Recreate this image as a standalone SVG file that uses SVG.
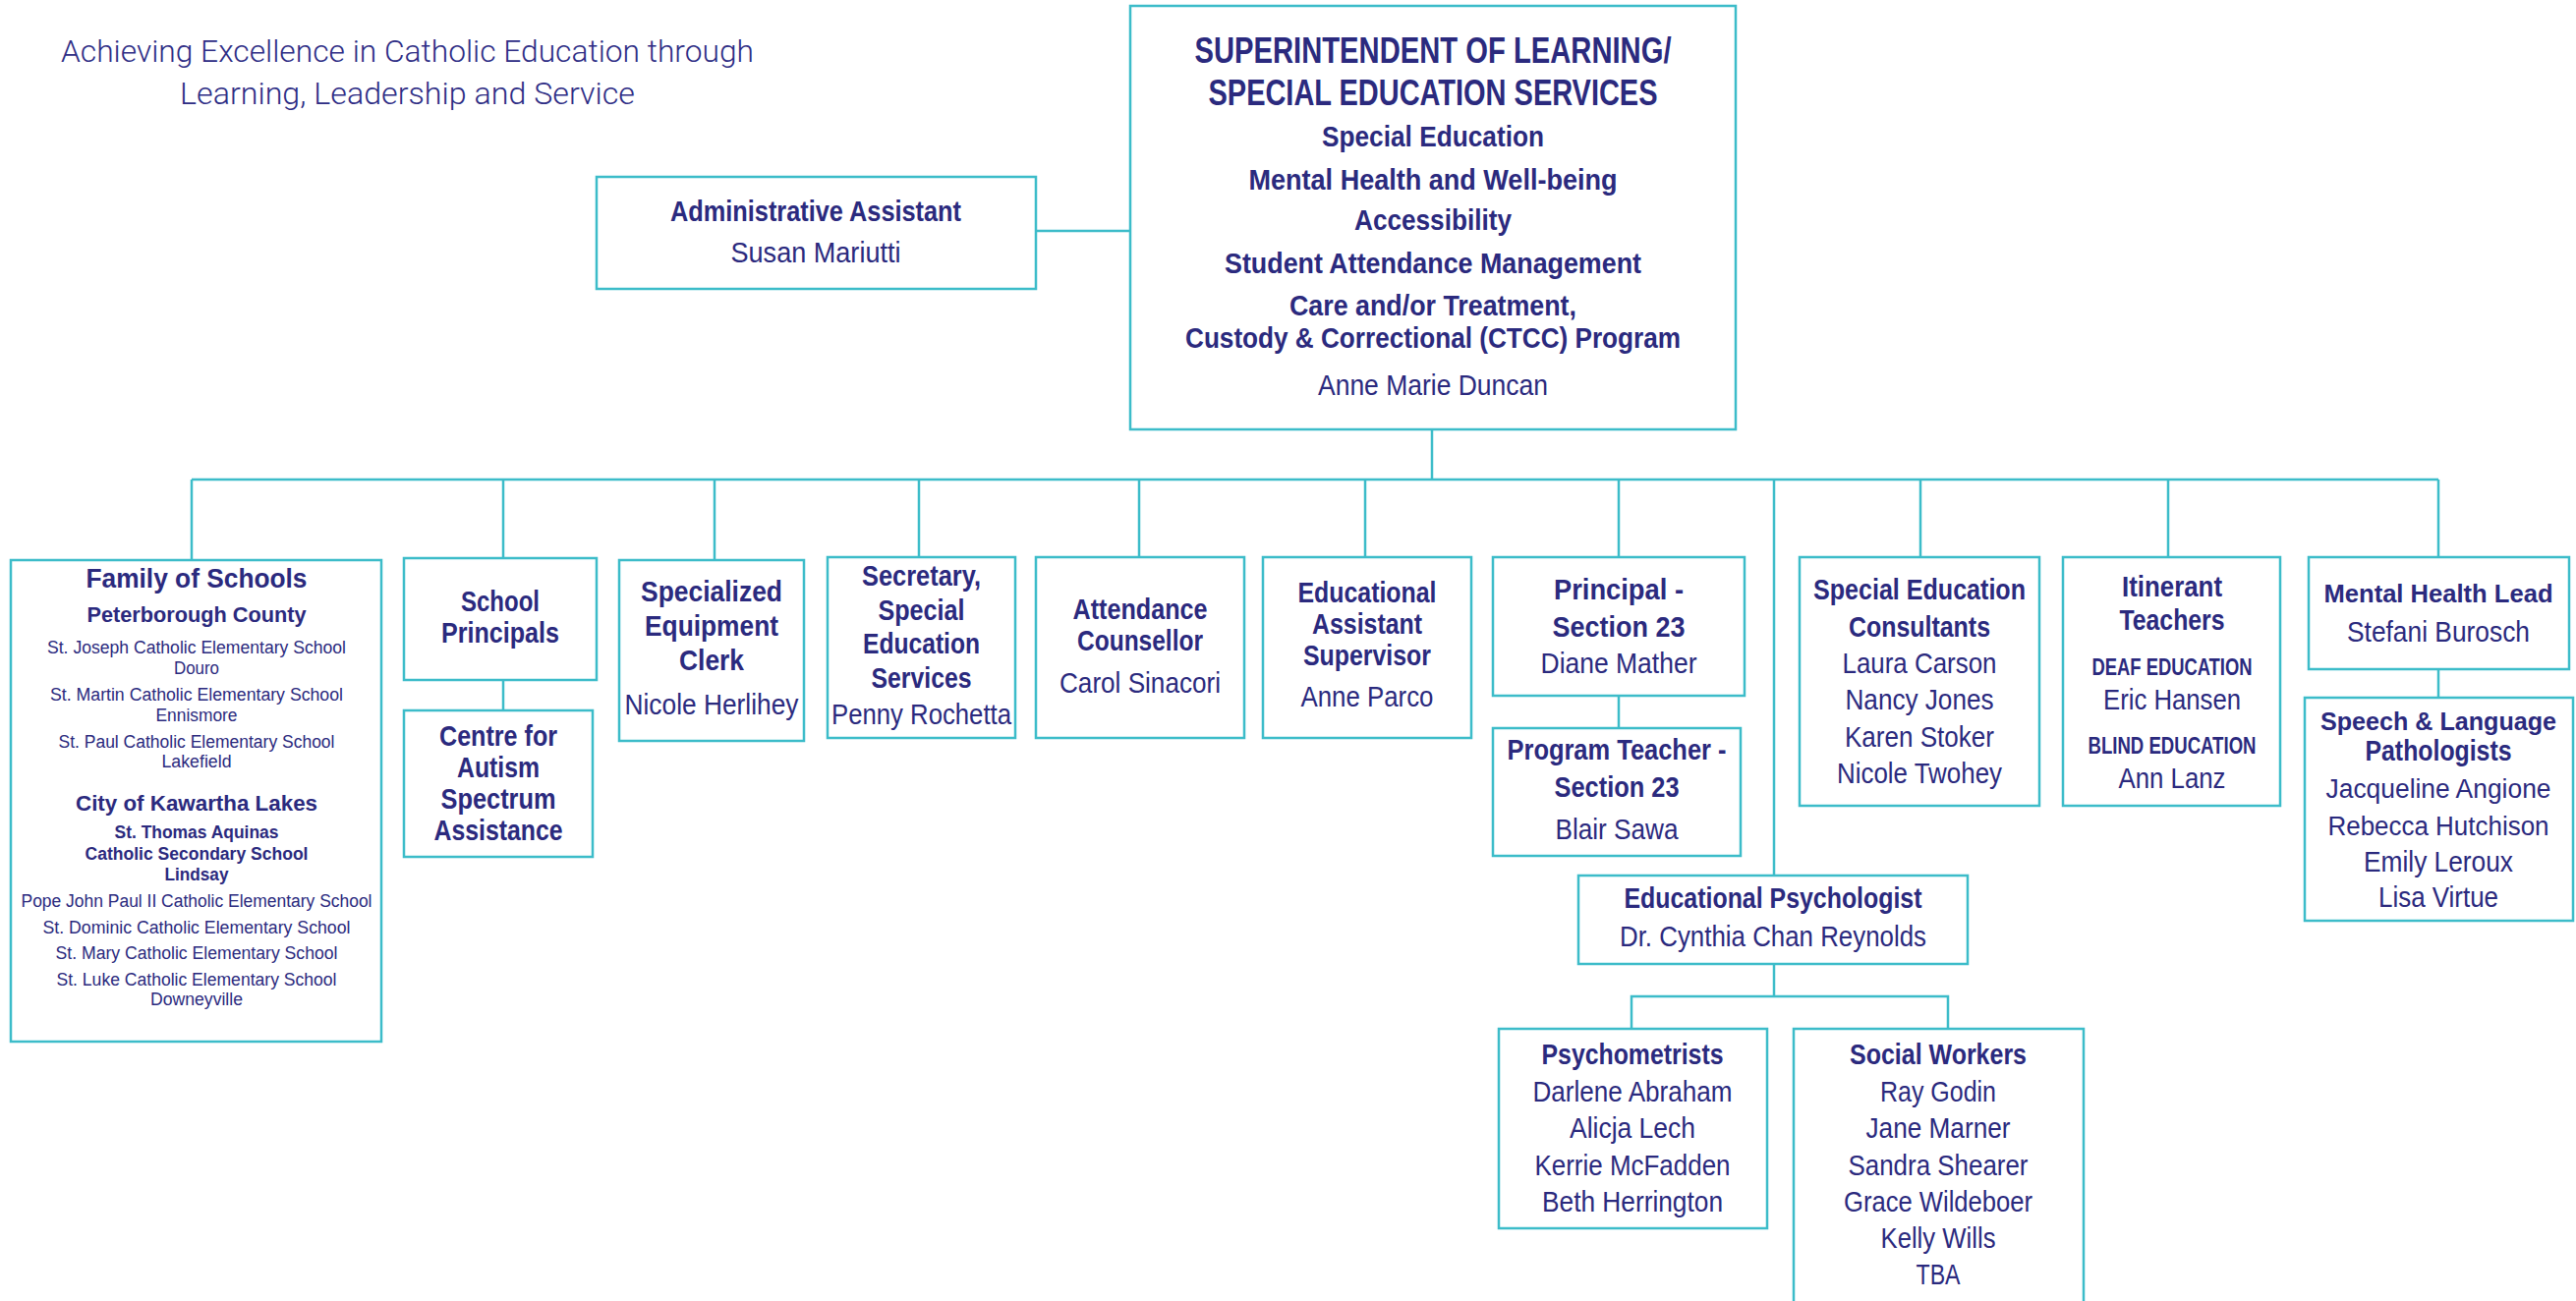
<svg xmlns="http://www.w3.org/2000/svg" width="2621" height="1324" viewBox="0 0 2621 1324">
<style>
.box{fill:#fff;stroke:#3cbcc9;stroke-width:2.5}
.ln{stroke:#3cbcc9;stroke-width:2.5;fill:none}
text{font-family:"Liberation Sans",Arial,sans-serif;fill:#2b2a7e;text-anchor:middle}
.b{font-weight:bold;font-size:30px}
.r{font-size:30px}
.h{font-weight:bold;font-size:36px}
.s{font-weight:bold;font-size:29px}
.sr{font-size:29px}
.fs{font-size:18px}
.fb{font-weight:bold;font-size:18px}
.fh{font-weight:bold;font-size:22px}
.cap{font-weight:bold;font-size:23px}
.title{font-family:Roboto,"Liberation Sans",Arial,sans-serif;font-weight:300;font-size:31px;fill:#2e2d85}
.rb{font-weight:bold;font-size:26px}
.rr{font-size:27px}
</style>
<rect width="2621" height="1324" fill="#fff"/>
<g id="tagline">
<text class="title" x="414.5" y="63" textLength="705" lengthAdjust="spacingAndGlyphs">Achieving Excellence in Catholic Education through</text>
<text class="title" x="414.5" y="106" textLength="463" lengthAdjust="spacingAndGlyphs">Learning, Leadership and Service</text>
</g>
<g id="connectors">
<line class="ln" x1="1054" y1="235" x2="1150" y2="235"/>
<line class="ln" x1="1457" y1="437" x2="1457" y2="488"/>
<line class="ln" x1="195" y1="488" x2="2481" y2="488"/>
<line class="ln" x1="195" y1="488" x2="195" y2="570"/>
<line class="ln" x1="512" y1="488" x2="512" y2="568"/>
<line class="ln" x1="727" y1="488" x2="727" y2="570"/>
<line class="ln" x1="935" y1="488" x2="935" y2="567"/>
<line class="ln" x1="1159" y1="488" x2="1159" y2="567"/>
<line class="ln" x1="1389" y1="488" x2="1389" y2="567"/>
<line class="ln" x1="1647" y1="488" x2="1647" y2="567"/>
<line class="ln" x1="1805" y1="488" x2="1805" y2="891"/>
<line class="ln" x1="1954" y1="488" x2="1954" y2="567"/>
<line class="ln" x1="2206" y1="488" x2="2206" y2="567"/>
<line class="ln" x1="2481" y1="488" x2="2481" y2="567"/>
<line class="ln" x1="512" y1="692" x2="512" y2="723"/>
<line class="ln" x1="1647" y1="708" x2="1647" y2="741"/>
<line class="ln" x1="2481" y1="681" x2="2481" y2="710"/>
<line class="ln" x1="1805" y1="981" x2="1805" y2="1014"/>
<polyline class="ln" points="1660,1047 1660,1014 1982,1014 1982,1047"/>
</g>
<g id="superintendent">
<rect class="box" x="1150" y="6" width="616" height="431"/>
<text class="h" x="1458" y="64" textLength="485" lengthAdjust="spacingAndGlyphs">SUPERINTENDENT OF LEARNING/</text>
<text class="h" x="1458" y="107" textLength="457" lengthAdjust="spacingAndGlyphs">SPECIAL EDUCATION SERVICES</text>
<text class="s" x="1458" y="149" textLength="226" lengthAdjust="spacingAndGlyphs">Special Education</text>
<text class="s" x="1458" y="193" textLength="375" lengthAdjust="spacingAndGlyphs">Mental Health and Well-being</text>
<text class="s" x="1458" y="234" textLength="160" lengthAdjust="spacingAndGlyphs">Accessibility</text>
<text class="s" x="1458" y="278" textLength="424" lengthAdjust="spacingAndGlyphs">Student Attendance Management</text>
<text class="s" x="1458" y="321" textLength="292" lengthAdjust="spacingAndGlyphs">Care and/or Treatment,</text>
<text class="s" x="1458" y="354" textLength="504" lengthAdjust="spacingAndGlyphs">Custody &amp; Correctional (CTCC) Program</text>
<text class="sr" x="1458" y="402" textLength="234" lengthAdjust="spacingAndGlyphs">Anne Marie Duncan</text>
</g>
<g id="admin-assistant">
<rect class="box" x="607" y="180" width="447" height="114"/>
<text class="b" x="830" y="225" textLength="296" lengthAdjust="spacingAndGlyphs">Administrative Assistant</text>
<text class="r" x="830" y="267" textLength="173" lengthAdjust="spacingAndGlyphs">Susan Mariutti</text>
</g>
<g id="family-of-schools">
<rect class="box" x="11" y="570" width="377" height="490"/>
<text x="200" y="598" style="font-weight:bold;font-size:27px" textLength="225" lengthAdjust="spacingAndGlyphs">Family of Schools</text>
<text class="fh" x="200" y="633" textLength="223" lengthAdjust="spacingAndGlyphs">Peterborough County</text>
<text class="fs" x="200" y="665" textLength="304" lengthAdjust="spacingAndGlyphs">St. Joseph Catholic Elementary School</text>
<text class="fs" x="200" y="686" textLength="46" lengthAdjust="spacingAndGlyphs">Douro</text>
<text class="fs" x="200" y="713" textLength="298" lengthAdjust="spacingAndGlyphs">St. Martin Catholic Elementary School</text>
<text class="fs" x="200" y="734" textLength="83" lengthAdjust="spacingAndGlyphs">Ennismore</text>
<text class="fs" x="200" y="761" textLength="281" lengthAdjust="spacingAndGlyphs">St. Paul Catholic Elementary School</text>
<text class="fs" x="200" y="781" textLength="71" lengthAdjust="spacingAndGlyphs">Lakefield</text>
<text class="fh" x="200" y="825" textLength="246" lengthAdjust="spacingAndGlyphs">City of Kawartha Lakes</text>
<text class="fb" x="200" y="853" textLength="167" lengthAdjust="spacingAndGlyphs">St. Thomas Aquinas</text>
<text class="fb" x="200" y="875" textLength="227" lengthAdjust="spacingAndGlyphs">Catholic Secondary School</text>
<text class="fb" x="200" y="896" textLength="65" lengthAdjust="spacingAndGlyphs">Lindsay</text>
<text class="fs" x="200" y="923" textLength="357" lengthAdjust="spacingAndGlyphs">Pope John Paul II Catholic Elementary School</text>
<text class="fs" x="200" y="950" textLength="313" lengthAdjust="spacingAndGlyphs">St. Dominic Catholic Elementary School</text>
<text class="fs" x="200" y="976" textLength="287" lengthAdjust="spacingAndGlyphs">St. Mary Catholic Elementary School</text>
<text class="fs" x="200" y="1003" textLength="285" lengthAdjust="spacingAndGlyphs">St. Luke Catholic Elementary School</text>
<text class="fs" x="200" y="1023" textLength="94" lengthAdjust="spacingAndGlyphs">Downeyville</text>
</g>
<g id="school-principals">
<rect class="box" x="411" y="568" width="196" height="124"/>
<text class="b" x="509" y="622" textLength="80" lengthAdjust="spacingAndGlyphs">School</text>
<text class="b" x="509" y="654" textLength="120" lengthAdjust="spacingAndGlyphs">Principals</text>
</g>
<g id="centre-autism">
<rect class="box" x="411" y="723" width="192" height="149"/>
<text class="b" x="507" y="759" textLength="120" lengthAdjust="spacingAndGlyphs">Centre for</text>
<text class="b" x="507" y="791" textLength="84" lengthAdjust="spacingAndGlyphs">Autism</text>
<text class="b" x="507" y="823" textLength="117" lengthAdjust="spacingAndGlyphs">Spectrum</text>
<text class="b" x="507" y="855" textLength="131" lengthAdjust="spacingAndGlyphs">Assistance</text>
</g>
<g id="equipment-clerk">
<rect class="box" x="630" y="570" width="188" height="184"/>
<text class="b" x="724" y="612" textLength="144" lengthAdjust="spacingAndGlyphs">Specialized</text>
<text class="b" x="724" y="647" textLength="136" lengthAdjust="spacingAndGlyphs">Equipment</text>
<text class="b" x="724" y="682" textLength="66" lengthAdjust="spacingAndGlyphs">Clerk</text>
<text class="r" x="724" y="727" textLength="177" lengthAdjust="spacingAndGlyphs">Nicole Herlihey</text>
</g>
<g id="secretary">
<rect class="box" x="842" y="567" width="191" height="184"/>
<text class="b" x="937.5" y="596" textLength="121" lengthAdjust="spacingAndGlyphs">Secretary,</text>
<text class="b" x="937.5" y="631" textLength="88" lengthAdjust="spacingAndGlyphs">Special</text>
<text class="b" x="937.5" y="665" textLength="119" lengthAdjust="spacingAndGlyphs">Education</text>
<text class="b" x="937.5" y="700" textLength="102" lengthAdjust="spacingAndGlyphs">Services</text>
<text class="r" x="937.5" y="737" textLength="183" lengthAdjust="spacingAndGlyphs">Penny Rochetta</text>
</g>
<g id="attendance-counsellor">
<rect class="box" x="1054" y="567" width="212" height="184"/>
<text class="b" x="1160" y="630" textLength="137" lengthAdjust="spacingAndGlyphs">Attendance</text>
<text class="b" x="1160" y="662" textLength="128" lengthAdjust="spacingAndGlyphs">Counsellor</text>
<text class="r" x="1160" y="705" textLength="164" lengthAdjust="spacingAndGlyphs">Carol Sinacori</text>
</g>
<g id="ea-supervisor">
<rect class="box" x="1285" y="567" width="212" height="184"/>
<text class="b" x="1391" y="613" textLength="141" lengthAdjust="spacingAndGlyphs">Educational</text>
<text class="b" x="1391" y="645" textLength="112" lengthAdjust="spacingAndGlyphs">Assistant</text>
<text class="b" x="1391" y="677" textLength="130" lengthAdjust="spacingAndGlyphs">Supervisor</text>
<text class="r" x="1391" y="719" textLength="135" lengthAdjust="spacingAndGlyphs">Anne Parco</text>
</g>
<g id="principal-section23">
<rect class="box" x="1519" y="567" width="256" height="141"/>
<text class="b" x="1647" y="610" textLength="132" lengthAdjust="spacingAndGlyphs">Principal -</text>
<text class="b" x="1647" y="648" textLength="135" lengthAdjust="spacingAndGlyphs">Section 23</text>
<text class="r" x="1647" y="685" textLength="159" lengthAdjust="spacingAndGlyphs">Diane Mather</text>
</g>
<g id="program-teacher">
<rect class="box" x="1519" y="741" width="252" height="130"/>
<text class="b" x="1645" y="773" textLength="223" lengthAdjust="spacingAndGlyphs">Program Teacher -</text>
<text class="b" x="1645" y="811" textLength="127" lengthAdjust="spacingAndGlyphs">Section 23</text>
<text class="r" x="1645" y="854" textLength="125" lengthAdjust="spacingAndGlyphs">Blair Sawa</text>
</g>
<g id="se-consultants">
<rect class="box" x="1831" y="567" width="244" height="253"/>
<text class="b" x="1953" y="610" textLength="216" lengthAdjust="spacingAndGlyphs">Special Education</text>
<text class="b" x="1953" y="648" textLength="144" lengthAdjust="spacingAndGlyphs">Consultants</text>
<text class="r" x="1953" y="685" textLength="157" lengthAdjust="spacingAndGlyphs">Laura Carson</text>
<text class="r" x="1953" y="722" textLength="151" lengthAdjust="spacingAndGlyphs">Nancy Jones</text>
<text class="r" x="1953" y="760" textLength="152" lengthAdjust="spacingAndGlyphs">Karen Stoker</text>
<text class="r" x="1953" y="797" textLength="168" lengthAdjust="spacingAndGlyphs">Nicole Twohey</text>
</g>
<g id="itinerant-teachers">
<rect class="box" x="2099" y="567" width="221" height="253"/>
<text class="b" x="2210" y="607" textLength="102" lengthAdjust="spacingAndGlyphs">Itinerant</text>
<text class="b" x="2210" y="641" textLength="107" lengthAdjust="spacingAndGlyphs">Teachers</text>
<text class="cap" x="2210" y="687" textLength="163" lengthAdjust="spacingAndGlyphs">DEAF EDUCATION</text>
<text class="r" x="2210" y="722" textLength="140" lengthAdjust="spacingAndGlyphs">Eric Hansen</text>
<text class="cap" x="2210" y="767" textLength="171" lengthAdjust="spacingAndGlyphs">BLIND EDUCATION</text>
<text class="r" x="2210" y="802" textLength="109" lengthAdjust="spacingAndGlyphs">Ann Lanz</text>
</g>
<g id="mental-health-lead">
<rect class="box" x="2349" y="567" width="265" height="114"/>
<text class="rb" x="2481" y="613" textLength="233" lengthAdjust="spacingAndGlyphs">Mental Health Lead</text>
<text class="r" x="2481" y="653" textLength="186" lengthAdjust="spacingAndGlyphs">Stefani Burosch</text>
</g>
<g id="speech-language">
<rect class="box" x="2345" y="710" width="273" height="227"/>
<text class="rb" x="2481" y="743" textLength="240" lengthAdjust="spacingAndGlyphs">Speech &amp; Language</text>
<text class="b" x="2481" y="774" textLength="149" lengthAdjust="spacingAndGlyphs">Pathologists</text>
<text class="rr" x="2481" y="812" textLength="229" lengthAdjust="spacingAndGlyphs">Jacqueline Angione</text>
<text class="rr" x="2481" y="850" textLength="225" lengthAdjust="spacingAndGlyphs">Rebecca Hutchison</text>
<text class="r" x="2481" y="887" textLength="152" lengthAdjust="spacingAndGlyphs">Emily Leroux</text>
<text class="r" x="2481" y="923" textLength="122" lengthAdjust="spacingAndGlyphs">Lisa Virtue</text>
</g>
<g id="educational-psychologist">
<rect class="box" x="1606" y="891" width="396" height="90"/>
<text class="s" x="1804" y="924" textLength="303" lengthAdjust="spacingAndGlyphs">Educational Psychologist</text>
<text class="sr" x="1804" y="963" textLength="312" lengthAdjust="spacingAndGlyphs">Dr. Cynthia Chan Reynolds</text>
</g>
<g id="psychometrists">
<rect class="box" x="1525" y="1047" width="273" height="203"/>
<text class="s" x="1661" y="1083" textLength="185" lengthAdjust="spacingAndGlyphs">Psychometrists</text>
<text class="sr" x="1661" y="1121" textLength="203" lengthAdjust="spacingAndGlyphs">Darlene Abraham</text>
<text class="sr" x="1661" y="1158" textLength="128" lengthAdjust="spacingAndGlyphs">Alicja Lech</text>
<text class="sr" x="1661" y="1196" textLength="199" lengthAdjust="spacingAndGlyphs">Kerrie McFadden</text>
<text class="sr" x="1661" y="1233" textLength="184" lengthAdjust="spacingAndGlyphs">Beth Herrington</text>
</g>
<g id="social-workers">
<rect class="box" x="1825" y="1047" width="295" height="300"/>
<text class="s" x="1972" y="1083" textLength="180" lengthAdjust="spacingAndGlyphs">Social Workers</text>
<text class="sr" x="1972" y="1121" textLength="118" lengthAdjust="spacingAndGlyphs">Ray Godin</text>
<text class="sr" x="1972" y="1158" textLength="147" lengthAdjust="spacingAndGlyphs">Jane Marner</text>
<text class="sr" x="1972" y="1196" textLength="183" lengthAdjust="spacingAndGlyphs">Sandra Shearer</text>
<text class="sr" x="1972" y="1233" textLength="192" lengthAdjust="spacingAndGlyphs">Grace Wildeboer</text>
<text class="sr" x="1972" y="1270" textLength="117" lengthAdjust="spacingAndGlyphs">Kelly Wills</text>
<text class="sr" x="1972" y="1307" textLength="45" lengthAdjust="spacingAndGlyphs">TBA</text>
</g>
</svg>
